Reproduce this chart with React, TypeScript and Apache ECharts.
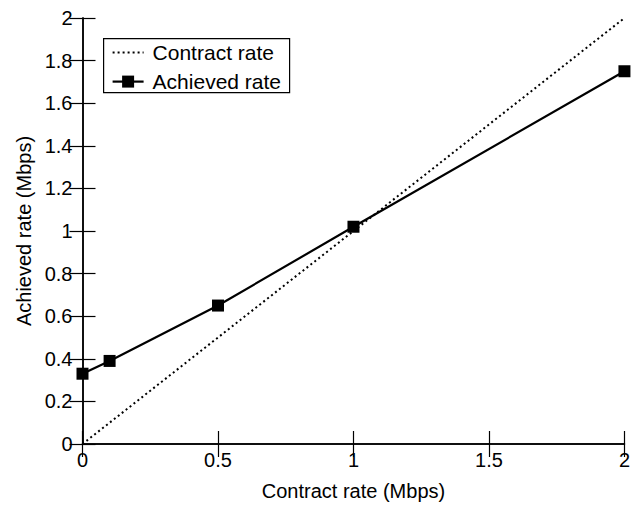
import React, { useEffect, useRef } from "react";
import * as echarts from "echarts";

const contractX = [0, 2];
const contractY = [0, 2];
const achievedX = [0, 0.1, 0.5, 1, 2];
const achievedY = [0.33, 0.39, 0.65, 1.02, 1.75];
const seriesNames = ["Contract rate", "Achieved rate"];
const xTitle = "Contract rate (Mbps)";
const yTitle = "Achieved rate (Mbps)";

const FONT = "Liberation Sans, Arial, Helvetica, sans-serif";

export default function App() {
  const ref = useRef<HTMLDivElement>(null);
  useEffect(() => {
    if (!ref.current) return;
    const chart = echarts.init(ref.current, undefined, { renderer: "svg" });
    const axisLine = { show: true, lineStyle: { color: "#000", width: 1.5 } };
    const tick = { show: true, inside: true, length: 13, lineStyle: { color: "#000", width: 1.2 } };
    const legendGraphic = {
      type: "group",
      left: 103,
      top: 38,
      children: [
        {
          type: "rect",
          shape: { x: 0, y: 0, width: 186, height: 54 },
          style: { fill: "#fff", stroke: "#000", lineWidth: 1.2 },
        },
        {
          type: "line",
          shape: { x1: 9, y1: 14, x2: 40, y2: 14 },
          style: { stroke: "#000", lineWidth: 2, lineDash: [2, 3] },
        },
        {
          type: "text",
          x: 49,
          y: 14,
          style: { text: seriesNames[0], font: `21px ${FONT}`, fill: "#000", verticalAlign: "middle" },
        },
        {
          type: "line",
          shape: { x1: 9, y1: 43, x2: 40, y2: 43 },
          style: { stroke: "#000", lineWidth: 2.2 },
        },
        {
          type: "rect",
          shape: { x: 18.5, y: 37, width: 12, height: 12 },
          style: { fill: "#000" },
        },
        {
          type: "text",
          x: 49,
          y: 43,
          style: { text: seriesNames[1], font: `21px ${FONT}`, fill: "#000", verticalAlign: "middle" },
        },
      ],
    };
    chart.setOption({
      animation: false,
      backgroundColor: "#fff",
      textStyle: { fontFamily: FONT },
      grid: { left: 82.5, right: 5.5, top: 18, bottom: 58.5, containLabel: false },
      graphic: [legendGraphic],
      xAxis: [
        {
          type: "value",
          position: "bottom",
          min: 0,
          max: 2,
          interval: 0.5,
          name: xTitle,
          nameLocation: "middle",
          nameGap: 37,
          nameTextStyle: { fontFamily: FONT, fontSize: 20, color: "#000" },
          axisLine,
          axisTick: tick,
          splitLine: { show: false },
          axisLabel: { fontFamily: FONT, fontSize: 20, color: "#000", margin: 6 },
        },
        {
          type: "value",
          position: "top",
          min: 0,
          max: 2,
          interval: 0.5,
          axisLine,
          axisTick: tick,
          splitLine: { show: false },
          axisLabel: { show: false },
        },
      ],
      yAxis: [
        {
          type: "value",
          position: "left",
          min: 0,
          max: 2,
          interval: 0.2,
          name: yTitle,
          nameLocation: "middle",
          nameGap: 49,
          nameRotate: 90,
          nameTextStyle: { fontFamily: FONT, fontSize: 20, color: "#000" },
          axisLine,
          axisTick: tick,
          splitLine: { show: false },
          axisLabel: {
            fontFamily: FONT,
            fontSize: 20,
            color: "#000",
            margin: 10,
            formatter: (v: number) => String(Math.round(v * 10) / 10),
          },
        },
        {
          type: "value",
          position: "right",
          min: 0,
          max: 2,
          interval: 0.2,
          axisLine,
          axisTick: tick,
          splitLine: { show: false },
          axisLabel: { show: false },
        },
      ],
      series: [
        {
          name: seriesNames[0],
          type: "line",
          data: contractX.map((x, i) => [x, contractY[i]]),
          showSymbol: false,
          symbol: "none",
          lineStyle: { color: "#000", width: 2, type: [2, 3] },
          itemStyle: { color: "#000" },
          clip: false,
        },
        {
          name: seriesNames[1],
          type: "line",
          data: achievedX.map((x, i) => [x, achievedY[i]]),
          symbol: "rect",
          symbolSize: 12,
          lineStyle: { color: "#000", width: 2.2 },
          itemStyle: { color: "#000" },
          clip: false,
          z: 3,
        },
      ],
    });
    return () => chart.dispose();
  }, []);
  return <div ref={ref} style={{ width: 633, height: 506, position: "absolute", left: 0, top: 0 }} />;
}
